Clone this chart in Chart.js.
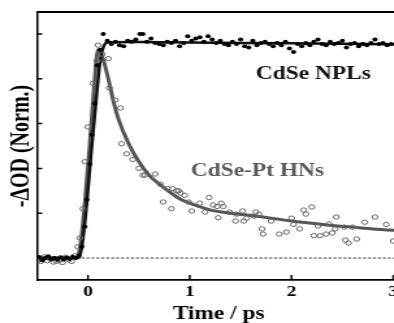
<!DOCTYPE html>
<html>
<head>
<meta charset="utf-8">
<script src="https://cdn.jsdelivr.net/npm/chart.js@4"></script>
<style>
html, body { margin: 0; padding: 0; background: #fff; overflow: hidden; }
/* the source figure is stretched sideways, so the whole chart is too */
#wrap { width: 320px; height: 323px; transform: scaleX(1.3); transform-origin: 0 0; }
</style>
</head>
<body>
<div id="wrap"><canvas id="chart" width="320" height="323"></canvas></div>
<script>
const SERIF = '"Liberation Serif", "Times New Roman", serif';

// tick values
const xTickVals = [0, 1, 2, 3];
const yTickVals = [0, 0.2, 0.4, 0.6, 0.8, 1.0];

// CdSe NPLs measured points (filled dots)
const nplX = [-0.48, -0.45, -0.42, -0.39, -0.36, -0.33, -0.30, -0.27, -0.24, -0.21, -0.18, -0.15, -0.12, -0.09,
    -0.06, -0.03, -0.01, 0.02, 0.04, 0.07, 0.09, 0.12, 0.15,
    0.19, 0.23, 0.27, 0.31, 0.35, 0.39, 0.43, 0.47, 0.51, 0.54, 0.58, 0.62, 0.66, 0.70, 0.74, 0.78, 0.82, 0.86,
    0.90, 0.94, 0.98, 1.02, 1.06, 1.10, 1.14, 1.18, 1.22, 1.26, 1.30, 1.34, 1.38, 1.42, 1.46, 1.50, 1.54, 1.58,
    1.62, 1.66, 1.70, 1.74, 1.78, 1.82, 1.86, 1.90, 1.94, 1.98, 2.02, 2.06, 2.10, 2.14, 2.18, 2.22, 2.26, 2.30,
    2.34, 2.38, 2.42, 2.46, 2.50, 2.54, 2.58, 2.62, 2.66, 2.70, 2.74, 2.78, 2.82, 2.86, 2.90, 2.94, 2.98];
const nplY = [0.005, -0.01, 0, 0.008, -0.005, 0, -0.008, 0.004, -0.006, 0.002, -0.004, 0.006, 0, 0.01,
    0.05, 0.14, 0.26, 0.42, 0.55, 0.69, 0.86, 0.93, 1.0,
    0.97, 0.955, 0.965, 0.95, 0.945, 0.97, 0.965, 0.975, 1.0, 1.0, 0.965, 0.98, 0.96, 0.955, 0.95, 0.965, 0.96, 0.97,
    0.945, 0.96, 0.99, 0.97, 0.98, 0.985, 0.965, 0.99, 0.975, 0.96, 0.97, 0.955, 0.95, 0.965, 0.955, 0.975, 0.945, 0.94,
    0.97, 0.95, 0.96, 0.965, 0.955, 0.945, 0.96, 0.95, 0.965, 0.935, 0.92, 0.955, 0.945, 0.96, 0.95, 0.965, 0.975, 0.955,
    0.95, 0.965, 0.955, 0.96, 0.97, 0.94, 0.955, 0.96, 0.945, 0.955, 0.95, 0.96, 0.975, 0.955, 0.96, 0.95, 0.955];

// CdSe-Pt HNs measured points (open circles)
const hnX = [-0.49, -0.46, -0.43, -0.40, -0.37, -0.34, -0.31, -0.28, -0.25, -0.22, -0.19, -0.16, -0.13, -0.10,
    -0.08, -0.05, -0.03, 0.0, 0.05, 0.09, 0.10, 0.14, 0.20, 0.21, 0.27, 0.32, 0.33, 0.38, 0.44, 0.50, 0.54, 0.56,
    0.66, 0.71, 0.74, 0.78, 0.82, 0.83, 0.87, 0.89, 0.91, 0.95, 0.99, 1.02, 1.10, 1.15, 1.19, 1.23, 1.27, 1.28,
    1.31, 1.33, 1.39, 1.45, 1.46, 1.52, 1.53, 1.56, 1.63, 1.65, 1.68, 1.71, 1.72, 1.80, 1.88, 1.95, 2.00, 2.02,
    2.08, 2.12, 2.14, 2.20, 2.22, 2.26, 2.28, 2.34, 2.37, 2.40, 2.43, 2.44, 2.52, 2.53, 2.56, 2.60, 2.64, 2.72,
    2.82, 2.93, 3.00];
const hnY = [-0.01, -0.015, 0.005, -0.012, -0.005, -0.018, -0.015, -0.01, -0.02, 0.004, -0.008, -0.015, 0.01, 0.05,
    0.09, 0.22, 0.43, 0.585, 0.78, 0.88, 0.95, 0.91, 0.89, 0.76, 0.705, 0.67, 0.51, 0.465, 0.44, 0.40, 0.37, 0.37,
    0.375, 0.33, 0.25, 0.31, 0.22, 0.31, 0.30, 0.30, 0.29, 0.28, 0.25, 0.21, 0.245, 0.205, 0.27, 0.237, 0.23, 0.18,
    0.245, 0.23, 0.205, 0.165, 0.196, 0.21, 0.165, 0.178, 0.187, 0.205, 0.196, 0.13, 0.107, 0.165, 0.107, 0.116, 0.178, 0.15,
    0.13, 0.214, 0.196, 0.228, 0.10, 0.143, 0.10, 0.107, 0.152, 0.112, 0.13, 0.183, 0.138, 0.08, 0.067, 0.138, 0.085, 0.16,
    0.183, 0.15, 0.076];

// fitted curves
const nplFitX = [-0.5, -0.1, -0.08, -0.05, -0.01, 0.03, 0.08, 0.12, 0.16, 0.2, 0.5, 1.0, 1.5, 2.0, 2.5, 3.1];
const nplFitY = [0, 0, 0.01, 0.08, 0.25, 0.46, 0.70, 0.88, 0.95, 0.963, 0.964, 0.962, 0.960, 0.958, 0.956, 0.954];
const hnFitX = [-0.5, -0.11, -0.08, -0.05, -0.02, 0.02, 0.06, 0.1, 0.14, 0.2, 0.25, 0.3, 0.4, 0.5, 0.6, 0.7, 0.8,
    0.9, 1.0, 1.2, 1.4, 1.6, 1.8, 2.0, 2.2, 2.4, 2.6, 2.8, 3.1];
const hnFitY = [0, 0, 0.04, 0.15, 0.3, 0.52, 0.76, 0.93, 0.9, 0.8, 0.7, 0.62, 0.51, 0.43, 0.37, 0.33, 0.295,
    0.265, 0.245, 0.215, 0.2, 0.19, 0.178, 0.165, 0.155, 0.145, 0.138, 0.13, 0.122];

// dashed zero line
const zeroX = [-0.5, 3.1];
const zeroY = [0, 0];

const notes = ['CdSe NPLs', 'CdSe-Pt HNs'];

function pts(xs, ys) {
    return xs.map((x, i) => ({ x: x, y: ys[i] }));
}

const framePlugin = {
    id: 'frame',
    afterDraw(chart) {
        const c = chart.ctx;
        const a = chart.chartArea;
        const xs = chart.scales.x;
        const ys = chart.scales.y;
        c.save();
        c.strokeStyle = '#000';
        c.lineWidth = 1.8;
        c.beginPath();
        c.moveTo(a.left, a.top);
        c.lineTo(a.right, a.top);
        c.stroke();

        c.lineWidth = 1.5;
        c.beginPath();
        ys.ticks.forEach(t => {
            const p = ys.getPixelForValue(t.value);
            c.moveTo(a.left, p);
            c.lineTo(a.left + 4, p);
        });
        xs.ticks.forEach(t => {
            const p = xs.getPixelForValue(t.value);
            c.moveTo(p, a.bottom);
            c.lineTo(p, a.bottom - 5);
        });
        c.stroke();

        c.font = 'bold 18px ' + SERIF;
        c.textBaseline = 'middle';
        c.textAlign = 'left';
        c.fillStyle = '#111';
        c.fillText(notes[0], xs.getPixelForValue(1.65), ys.getPixelForValue(0.82));
        c.fillStyle = '#5a5a5a';
        c.fillText(notes[1], xs.getPixelForValue(1.01), ys.getPixelForValue(0.385));
        c.restore();
    }
};

const ctx = document.getElementById('chart').getContext('2d');

let chart = new Chart(ctx, {
    type: 'scatter',
    data: {
        datasets: [
            {
                label: 'CdSe NPLs',
                data: pts(nplX, nplY),
                backgroundColor: '#000',
                borderColor: '#000',
                pointRadius: 2,
                borderWidth: 0
            },
            {
                label: 'CdSe-Pt HNs',
                data: pts(hnX, hnY),
                backgroundColor: 'rgba(255,255,255,0)',
                borderColor: '#666',
                pointRadius: 2.2,
                borderWidth: 1
            },
            {
                type: 'line',
                label: 'NPL fit',
                data: pts(nplFitX, nplFitY),
                borderColor: '#111',
                borderWidth: 2.5,
                pointRadius: 0,
                cubicInterpolationMode: 'monotone',
                fill: false
            },
            {
                type: 'line',
                label: 'HN fit',
                data: pts(hnFitX, hnFitY),
                borderColor: '#555',
                borderWidth: 3,
                pointRadius: 0,
                cubicInterpolationMode: 'monotone',
                fill: false
            },
            {
                type: 'line',
                label: 'zero',
                data: pts(zeroX, zeroY),
                borderColor: '#333',
                borderWidth: 1,
                borderDash: [2.3, 1.5],
                pointRadius: 0,
                fill: false
            }
        ]
    },
    options: {
        animation: false,
        responsive: false,
        layout: { padding: { left: 5, right: 12, top: 12, bottom: 0 } },
        plugins: {
            legend: { display: false },
            tooltip: { enabled: false }
        },
        scales: {
            x: {
                type: 'linear',
                min: -0.5,
                max: 3.07,
                grid: { display: false, drawTicks: false },
                border: { display: true, color: '#000', width: 1.8 },
                afterBuildTicks: s => { s.ticks = xTickVals.map(v => ({ value: v })); },
                afterFit: s => { s.height = 43; },
                ticks: {
                    color: '#000',
                    padding: 3,
                    font: { family: SERIF, size: 15, weight: 'bold' }
                },
                title: {
                    display: true,
                    text: 'Time / ps',
                    color: '#000',
                    padding: 0,
                    font: { family: SERIF, size: 18, weight: 'bold', lineHeight: 1 }
                }
            },
            y: {
                min: -0.098,
                max: 1.098,
                grid: { display: false, drawTicks: false },
                border: { display: true, color: '#000', width: 1.5 },
                afterBuildTicks: s => { s.ticks = yTickVals.map(v => ({ value: v })); },
                afterFit: s => { s.width = 23.5; },
                ticks: { display: false },
                title: {
                    display: true,
                    text: '-ΔOD (Norm.)',
                    color: '#000',
                    padding: { top: 2, bottom: 0 },
                    font: { family: SERIF, size: 20, weight: 'bold', lineHeight: 1 }
                }
            }
        }
    },
    plugins: [framePlugin]
});
</script>
</body>
</html>
